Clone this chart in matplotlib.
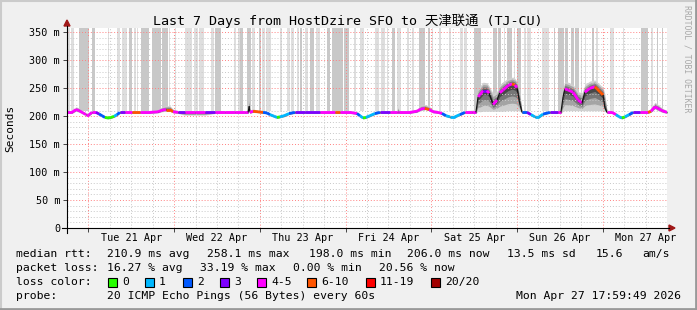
import numpy as np
import matplotlib.pyplot as plt
from matplotlib.collections import LineCollection
from matplotlib.patches import Rectangle, Polygon
from matplotlib.lines import Line2D

plt.rcParams['font.family'] = ['DejaVu Sans Mono', 'Noto Sans CJK SC']

W, H = 697, 310

# ---- data (hours since Mon 20 Apr 17:59:49) ----
t_hours = [0.0, 1.4, 2.5, 3.4, 4.5, 5.3, 6.2, 7.0, 8.1, 9.0,
           9.8, 10.6, 11.5, 12.3, 13.2, 14.0, 14.8, 16.2, 18.2, 20.4,
           23.2, 25.5, 26.6, 27.7, 28.8, 29.7, 31.1, 33.0, 35.8, 38.6,
           41.4, 44.2, 47.0, 49.8, 50.7, 51.0, 51.2, 52.1, 53.5, 54.9,
           56.0, 56.8, 58.0, 58.8, 59.6, 60.8, 62.2, 63.8, 66.6, 70.8,
           75.0, 76.4, 79.2, 81.2, 82.0, 82.9, 83.7, 84.8, 86.2, 87.6,
           90.4, 92.4, 92.7, 93.0, 96.0, 98.0, 99.1, 100.2, 101.4, 102.5,
           103.9, 105.0, 106.1, 107.2, 108.6, 110.0, 111.4, 113.4, 114.5, 115.1,
           115.6, 116.5, 117.6, 118.2, 119.3, 120.4, 121.2, 122.1, 123.5, 124.6,
           125.4, 126.0, 126.8, 127.4, 128.8, 129.9, 131.0, 132.2, 133.3, 135.2,
           137.5, 138.3, 138.9, 139.4, 140.3, 141.7, 143.1, 144.2, 145.0, 146.4,
           147.8, 149.2, 150.1, 150.6, 151.2, 152.6, 153.7, 154.6, 155.4, 156.2,
           157.4, 158.5, 160.4, 162.7, 163.5, 164.6, 165.5, 166.6, 168.0]

median_ms = [207, 207, 212, 210, 206, 203, 203, 207, 207, 204,
             201, 198, 197, 198, 200, 203, 207, 207, 207, 207,
             207, 208, 211, 212, 212, 208, 207, 207, 207, 207,
             207, 207, 207, 207, 207, 218, 207, 209, 208, 207,
             206, 203, 200, 198, 199, 201, 205, 207, 207, 207,
             207, 207, 207, 205, 201, 197, 198, 201, 205, 207,
             207, 207, 207, 207, 207, 209, 213, 214, 212, 208,
             207, 205, 201, 199, 199, 203, 207, 207, 207, 235,
             238, 246, 246, 241, 221, 229, 242, 247, 255, 258,
             256, 251, 222, 207, 207, 203, 199, 199, 204, 207,
             207, 207, 235, 249, 247, 243, 229, 224, 243, 250,
             253, 244, 238, 215, 207, 207, 203, 199, 197, 199,
             203, 207, 207, 207, 209, 217, 214, 210, 207]

loss_count = [4, 4, 4, 4, 4, 4, 4, 4, 3, 2,
              2, 0, 0, 0, 1, 2, 3, 4, 6, 4,
              4, 4, 4, 6, 6, 4, 3, 4, 4, 3,
              4, 4, 4, 4, 4, 4, 4, 6, 6, 2,
              2, 1, 1, 0, 1, 1, 2, 3, 3, 4,
              6, 4, 4, 2, 1, 0, 1, 1, 2, 3,
              4, 4, 4, 4, 4, 4, 4, 6, 4, 4,
              4, 2, 1, 1, 1, 2, 4, 4, 4, 4,
              4, 3, 4, 4, 4, 4, 4, 4, 4, 6,
              4, 4, 4, 2, 3, 1, 1, 1, 2, 3,
              4, 4, 4, 4, 4, 4, 4, 4, 4, 4,
              6, 6, 6, 6, 4, 4, 1, 1, 0, 1,
              2, 3, 4, 6, 4, 4, 4, 4, 4]

smoke_up = [3, 3, 5, 5, 3, 3, 3, 3, 3, 3,
            3, 3, 3, 3, 3, 3, 3, 3, 3, 3,
            3, 4, 6, 7, 7, 5, 3, 3, 3, 3,
            3, 3, 3, 3, 3, 13, 4, 4, 3, 3,
            3, 3, 3, 3, 3, 3, 3, 3, 3, 3,
            3, 3, 3, 3, 3, 3, 3, 3, 3, 3,
            3, 3, 10, 3, 3, 4, 7, 7, 6, 4,
            3, 3, 3, 3, 3, 3, 3, 4, 5, 15,
            16, 15, 14, 13, 20, 16, 15, 15, 13, 12,
            12, 12, 20, 3, 3, 3, 3, 3, 3, 3,
            3, 4, 15, 14, 14, 14, 15, 18, 14, 13,
            12, 13, 14, 25, 4, 3, 3, 3, 3, 3,
            3, 3, 3, 3, 5, 8, 7, 5, 3]

smoke_dn = [2, 2, 3, 3, 2, 2, 2, 2, 2, 2,
            2, 2, 2, 2, 2, 2, 2, 2, 2, 2,
            2, 2, 3, 3, 3, 2, 2, 5, 5, 5,
            2, 2, 2, 2, 2, 3, 2, 2, 2, 2,
            2, 2, 2, 2, 2, 2, 2, 2, 2, 2,
            2, 2, 2, 2, 2, 2, 2, 2, 2, 2,
            2, 2, 2, 2, 2, 2, 2, 2, 2, 2,
            2, 2, 2, 2, 2, 2, 2, 2, 2, 26,
            30, 37, 37, 32, 12, 20, 33, 38, 45, 48,
            46, 41, 12, 2, 2, 2, 2, 2, 2, 2,
            2, 2, 26, 39, 37, 33, 19, 14, 33, 40,
            43, 34, 28, 6, 2, 2, 2, 2, 2, 2,
            2, 2, 2, 2, 2, 4, 4, 3, 2]

# grey columns above the median (start h, end h, 0 = light, 1 = dark)
bar_start = [0.0, 1.1, 3.4, 7.0, 11.6, 14.0, 15.4, 16.3, 17.4, 18.7,
             19.6, 20.7, 23.7, 26.6, 28.5, 30.1, 32.9, 35.5, 36.9, 40.3,
             41.5, 46.7, 47.8, 48.5, 50.4, 51.9, 53.7, 54.6, 55.8, 59.7,
             61.6, 62.7, 64.4, 65.3, 66.6, 68.1, 69.8, 72.8, 74.2, 77.5,
             80.3, 82.1, 86.2, 87.9, 89.6, 91.0, 92.4, 95.2, 96.6, 98.5,
             101.0, 102.2, 104.1, 106.9, 110.1, 111.1, 113.9, 119.3, 120.7, 122.3,
             123.2, 125.1, 126.0, 127.9, 128.8, 133.0, 136.3, 137.6, 139.4, 141.1,
             142.3, 143.9, 144.9, 147.0, 148.2, 152.1, 155.7, 160.7, 163.5, 165.2,
             166.5]
bar_end = [0.9, 1.9, 6.2, 7.8, 11.9, 14.9, 16.1, 16.9, 18.1, 19.2,
           20.0, 23.0, 26.3, 28.2, 28.9, 30.6, 35.0, 36.6, 38.3, 41.1,
           43.1, 47.2, 48.5, 49.3, 51.5, 52.6, 54.3, 55.5, 57.1, 60.1,
           62.3, 63.5, 65.0, 65.8, 67.4, 69.3, 70.9, 73.7, 77.3, 78.9,
           80.8, 83.1, 87.4, 89.0, 90.0, 91.8, 93.5, 95.8, 97.1, 100.3,
           101.7, 102.5, 104.7, 107.5, 110.9, 112.0, 115.9, 120.4, 121.5, 122.7,
           124.7, 125.5, 127.1, 128.4, 129.9, 135.0, 136.7, 139.1, 140.4, 142.1,
           143.4, 144.2, 145.2, 147.5, 148.6, 153.1, 155.9, 162.6, 164.1, 165.5,
           166.9]
bar_shade = [0, 0, 1, 1, 0, 0, 0, 0, 1, 0,
             0, 1, 1, 1, 0, 0, 0, 0, 0, 0,
             1, 0, 0, 1, 1, 0, 1, 0, 0, 0,
             0, 0, 0, 1, 0, 1, 0, 1, 1, 1,
             0, 0, 0, 0, 0, 1, 0, 0, 0, 1,
             1, 0, 0, 0, 0, 0, 1, 1, 1, 0,
             1, 0, 1, 0, 0, 0, 1, 1, 1, 1,
             1, 0, 0, 1, 0, 0, 0, 1, 0, 1,
             1]

day_labels = ['Tue 21 Apr', 'Wed 22 Apr', 'Thu 23 Apr', 'Fri 24 Apr',
              'Sat 25 Apr', 'Sun 26 Apr', 'Mon 27 Apr']
y_ticks = [0, 50, 100, 150, 200, 250, 300, 350]

loss_names = ['0', '1', '2', '3', '4-5', '6-10', '11-19', '20/20']
loss_colors = ['#26ff00', '#00b8ff', '#0059ff', '#7e00ff',
               '#ff00ff', '#ff5500', '#ff0000', '#a10000']


def loss_color(n):
    if n <= 3:
        return loss_colors[n]
    if n <= 5:
        return loss_colors[4]
    if n <= 10:
        return loss_colors[5]
    if n <= 19:
        return loss_colors[6]
    return loss_colors[7]


def fx(x):
    return x / W


def fy(y):
    return 1 - y / H


fig = plt.figure(figsize=(W / 100, H / 100), dpi=100, facecolor='#f0f0f0')
ax = fig.add_axes([fx(67), fy(228), 600 / W, 200 / H])
ax.set_facecolor('white')
ax.set_xlim(0, 168)
ax.set_ylim(0, 358)
for s in ax.spines.values():
    s.set_visible(False)

# columns
shade_cols = ['#dedede', '#c8c8c8']
ax.bar(bar_start, 358 - 210, width=np.array(bar_end) - np.array(bar_start),
       bottom=210, align='edge', color=[shade_cols[k] for k in bar_shade],
       linewidth=0, zorder=0.5)

# smoke
t = np.array(t_hours)
r = np.array(median_ms, dtype=float)
up = np.array(smoke_up)
dn = np.array(smoke_dn)
for f, c in zip([1.0, 0.72, 0.45, 0.2], ['#d0d0d0', '#a4a4a4', '#767676', '#484848']):
    ax.fill_between(t, r - f * dn, r + f * up, color=c, linewidth=0, zorder=1)

# median, coloured by loss
segs, cols, widths = [], [], []
for i in range(len(t) - 1):
    segs.append([(t[i], r[i]), (t[i + 1], r[i + 1])])
    slope = abs(r[i + 1] - r[i]) / (t[i + 1] - t[i])
    if slope > 12:
        cols.append('#111111')
        widths.append(0.8)
    else:
        cols.append(loss_color(loss_count[i]))
        widths.append(2.0)
ax.add_collection(LineCollection(segs, colors=cols, linewidths=widths,
                                 capstyle='butt', zorder=3))

# grid
day_lines = [6.0 + 24 * k for k in range(7)]
ax.set_xticks(day_lines)
ax.set_xticks(np.arange(0, 168.1, 6), minor=True)
ax.set_yticks(y_ticks)
ax.set_yticks(np.arange(0, 358, 10), minor=True)
ax.set_yticklabels(['0'] + ['%d m' % v for v in y_ticks[1:]])
ax.set_xticklabels([])
ax.grid(which='major', color='#ff8080', linestyle=(0, (1, 2)), linewidth=0.7)
ax.grid(which='minor', color='#c8c8c8', linestyle=(0, (1, 2)), linewidth=0.7)
ax.set_axisbelow(False)
ax.tick_params(axis='both', which='major', length=3, width=0.7, color='#444444',
               labelsize=7.3, pad=2)
ax.tick_params(axis='both', which='minor', length=0)

for k, lbl in enumerate(day_labels):
    ax.text(18 + 24 * k, -10 / 200, lbl, transform=ax.get_xaxis_transform(),
            ha='center', va='center', fontsize=7.3)

# axis lines with arrows
fig.add_artist(Line2D([fx(62), fx(669)], [fy(228), fy(228)], color='black', lw=0.8))
fig.add_artist(Line2D([fx(67), fx(67)], [fy(233), fy(26)], color='black', lw=0.8))
fig.add_artist(Polygon([(fx(675), fy(228)), (fx(669), fy(225)), (fx(669), fy(231))],
                       closed=True, color='#a01818', transform=fig.transFigure))
fig.add_artist(Polygon([(fx(67), fy(20)), (fx(64), fy(26)), (fx(70), fy(26))],
                       closed=True, color='#a01818', transform=fig.transFigure))

# titles
fig.text(fx(348), fy(20.5), 'Last 7 Days from HostDzire SFO to 天津联通 (TJ-CU)',
         ha='center', va='center', fontsize=9.6)
fig.text(fx(10), fy(128), 'Seconds', rotation=90, ha='center', va='center', fontsize=8)
fig.text(fx(687), fy(5), 'RRDTOOL / TOBI OETIKER', rotation=-90, ha='center', va='top',
         fontsize=5.9, color='#a8a8a8')

# legend
fs = 8.2
rows = [
    (254, [(16, 'median rtt:'), (107, '210.9 ms avg'), (207, '258.1 ms max'),
           (309, '198.0 ms min'), (407, '206.0 ms now'), (507, '13.5 ms sd'),
           (596, '15.6'), (642, 'am/s')]),
    (268, [(16, 'packet loss:'), (107, '16.27 % avg'), (200, '33.19 % max'),
           (293, '0.00 % min'), (379, '20.56 % now')]),
    (296, [(16, 'probe:'), (107, '20 ICMP Echo Pings (56 Bytes) every 60s')]),
]
for y, items in rows:
    for x, s in items:
        fig.text(fx(x), fy(y), s, ha='left', va='center', fontsize=fs)
fig.text(fx(681), fy(296), 'Mon Apr 27 17:59:49 2026', ha='right', va='center', fontsize=fs)

fig.text(fx(16), fy(282), 'loss color:', ha='left', va='center', fontsize=fs)
box_x = [108, 145, 183, 220, 257, 307, 366, 431]
for bx, name, c in zip(box_x, loss_names, loss_colors):
    fig.add_artist(Rectangle((fx(bx), fy(287)), 9 / W, 9 / H, facecolor=c,
                             edgecolor='black', lw=0.8, transform=fig.transFigure))
    fig.text(fx(bx + 14), fy(282), name, ha='left', va='center', fontsize=fs)

# 3d frame
fig.add_artist(Line2D([0, 1], [fy(0.5), fy(0.5)], color='#cbcbcb', lw=1.5))
fig.add_artist(Line2D([fx(0.5), fx(0.5)], [0, 1], color='#cbcbcb', lw=1.5))
fig.add_artist(Line2D([0, 1], [fy(308.5), fy(308.5)], color='#999999', lw=2))
fig.add_artist(Line2D([fx(695.5), fx(695.5)], [0, 1], color='#999999', lw=2))

fig.savefig('out.png', dpi=100, facecolor=fig.get_facecolor())
